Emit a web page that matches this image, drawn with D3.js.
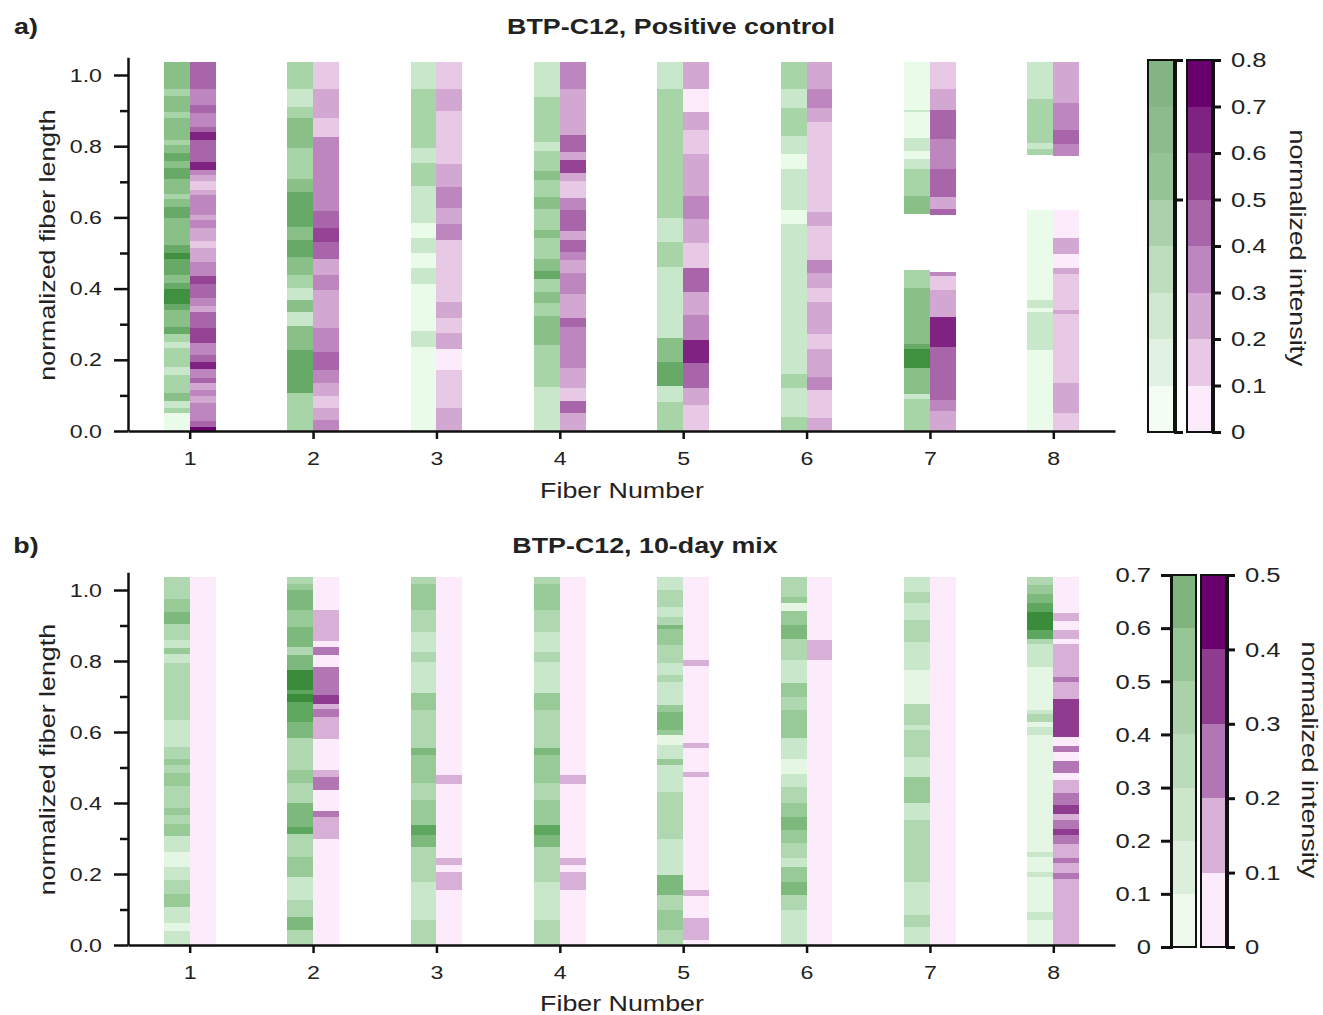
<!DOCTYPE html>
<html>
<head>
<meta charset="utf-8">
<script src="https://cdn.jsdelivr.net/npm/d3@7"></script>
<style>
  body { margin: 0; background: #fff; }
  text { font-family: "Liberation Sans", Arial, sans-serif; fill: #222; }
</style>
</head>
<body>
<div id="chart"></div>
<script>
// fiber positions and tick values
const fibers = [1, 2, 3, 4, 5, 6, 7, 8];
const lengthMajor = [0, 0.2, 0.4, 0.6, 0.8, 1.0];
const lengthMinor = [0.1, 0.3, 0.5, 0.7, 0.9];
const cbTicksA = [0, 0.1, 0.2, 0.3, 0.4, 0.5, 0.6, 0.7, 0.8];
const cbTicksGreenB = [0, 0.1, 0.2, 0.3, 0.4, 0.5, 0.6, 0.7];
const cbTicksPurpleB = [0, 0.1, 0.2, 0.3, 0.4, 0.5];
const fiberTop = 1.037;

// each column: segments from top to bottom as [lower edge, intensity]; null = no signal
const posGreen = [
  [[0.962,0.35],[0.942,0.25],[0.897,0.35],[0.878,0.25],[0.817,0.35],[0.803,0.25],[0.780,0.35],[0.758,0.45],[0.738,0.35],[0.708,0.45],[0.665,0.35],[0.652,0.25],[0.630,0.35],[0.597,0.45],[0.522,0.35],[0.499,0.45],[0.483,0.55],[0.438,0.45],[0.415,0.35],[0.399,0.45],[0.356,0.55],[0.340,0.45],[0.293,0.35],[0.272,0.45],[0.251,0.25],[0.232,0.15],[0.181,0.25],[0.157,0.15],[0.106,0.25],[0.083,0.35],[0.066,0.15],[0.050,0.25],[0,0.05]],
  [[0.962,0.25],[0.911,0.15],[0.878,0.25],[0.794,0.35],[0.708,0.25],[0.672,0.35],[0.574,0.45],[0.537,0.35],[0.490,0.45],[0.438,0.35],[0.401,0.25],[0.368,0.15],[0.333,0.35],[0.296,0.15],[0.228,0.35],[0.106,0.45],[0,0.25]],
  [[0.962,0.15],[0.796,0.25],[0.752,0.15],[0.689,0.25],[0.583,0.15],[0.541,0.05],[0.499,0.15],[0.457,0.05],[0.412,0.15],[0.281,0.05],[0.237,0.15],[0,0.05]],
  [[0.939,0.15],[0.813,0.25],[0.786,0.15],[0.730,0.25],[0.705,0.35],[0.658,0.25],[0.624,0.35],[0.565,0.25],[0.541,0.35],[0.483,0.25],[0.449,0.35],[0.427,0.45],[0.391,0.25],[0.359,0.35],[0.324,0.25],[0.242,0.35],[0.125,0.25],[0,0.15]],
  [[0.961,0.15],[0.599,0.25],[0.530,0.15],[0.462,0.25],[0.262,0.15],[0.195,0.35],[0.127,0.45],[0.081,0.15],[0,0.25]],
  [[0.961,0.25],[0.906,0.15],[0.829,0.25],[0.777,0.15],[0.736,0.05],[0.621,0.15],[0.581,0.05],[0.159,0.15],[0.120,0.25],[0.040,0.15],[0,0.25]],
  [[0.902,0.05],[0.897,0.15],[0.822,0.05],[0.786,0.15],[0.764,0.05],[0.736,0.15],[0.661,0.25],[0.609,0.35],[0.452,null],[0.401,0.25],[0.244,0.35],[0.230,0.45],[0.178,0.55],[0.103,0.35],[0.090,0.15],[0,0.25]],
  [[0.932,0.15],[0.808,0.25],[0.792,0.15],[0.775,0.25],[0.621,null],[0.368,0.05],[0.346,0.15],[0.335,0.05],[0.228,0.15],[0,0.05]]
];
const posPurple = [
  [[0.962,0.45],[0.916,0.35],[0.892,0.45],[0.855,0.35],[0.839,0.45],[0.817,0.65],[0.756,0.45],[0.733,0.65],[0.719,0.35],[0.702,0.25],[0.677,0.15],[0.663,0.25],[0.607,0.35],[0.593,0.25],[0.569,0.35],[0.534,0.25],[0.515,0.15],[0.476,0.25],[0.434,0.35],[0.412,0.55],[0.373,0.45],[0.352,0.35],[0.333,0.25],[0.288,0.45],[0.246,0.55],[0.214,0.35],[0.193,0.45],[0.174,0.65],[0.150,0.35],[0.134,0.45],[0.115,0.25],[0.097,0.35],[0.078,0.25],[0.028,0.35],[0.012,0.45],[0,0.75]],
  [[0.962,0.15],[0.878,0.25],[0.827,0.15],[0.618,0.35],[0.569,0.45],[0.532,0.55],[0.483,0.45],[0.438,0.25],[0.396,0.35],[0.288,0.25],[0.221,0.35],[0.171,0.45],[0.134,0.35],[0.099,0.25],[0.064,0.15],[0.031,0.25],[0,0.35]],
  [[0.962,0.15],[0.899,0.25],[0.749,0.15],[0.686,0.25],[0.627,0.35],[0.581,0.25],[0.537,0.35],[0.361,0.15],[0.318,0.25],[0.274,0.15],[0.230,0.25],[0.171,0.05],[0.064,0.15],[0,0.25]],
  [[0.961,0.35],[0.831,0.25],[0.785,0.45],[0.761,0.25],[0.724,0.55],[0.702,0.25],[0.654,0.15],[0.621,0.35],[0.562,0.45],[0.537,0.25],[0.502,0.45],[0.480,0.35],[0.443,0.25],[0.384,0.35],[0.317,0.25],[0.293,0.45],[0.176,0.35],[0.120,0.25],[0.084,0.15],[0.050,0.45],[0,0.25]],
  [[0.961,0.25],[0.895,0.05],[0.845,0.25],[0.777,0.15],[0.661,0.25],[0.595,0.35],[0.527,0.25],[0.459,0.15],[0.391,0.45],[0.326,0.25],[0.256,0.35],[0.190,0.65],[0.122,0.45],[0.073,0.25],[0,0.15]],
  [[0.961,0.25],[0.906,0.35],[0.867,0.25],[0.616,0.15],[0.577,0.25],[0.480,0.15],[0.443,0.35],[0.403,0.25],[0.363,0.15],[0.272,0.25],[0.230,0.15],[0.153,0.25],[0.115,0.35],[0.036,0.15],[0,0.25]],
  [[0.961,0.15],[0.902,0.25],[0.820,0.45],[0.736,0.35],[0.658,0.45],[0.624,0.25],[0.607,0.45],[0.448,null],[0.434,0.35],[0.396,0.15],[0.321,0.25],[0.237,0.65],[0.087,0.45],[0.056,0.35],[0,0.25]],
  [[0.920,0.25],[0.845,0.35],[0.805,0.45],[0.772,0.35],[0.621,null],[0.543,0.05],[0.497,0.25],[0.457,0.05],[0.441,0.25],[0.340,0.15],[0.328,0.25],[0.134,0.15],[0.050,0.25],[0,0.15]]
];
const mixGreen = [
  [[0.976,0.25],[0.939,0.35],[0.904,0.45],[0.859,0.25],[0.838,0.15],[0.819,0.35],[0.795,0.15],[0.633,0.25],[0.558,0.15],[0.525,0.25],[0.507,0.35],[0.485,0.25],[0.448,0.35],[0.385,0.25],[0.366,0.35],[0.342,0.25],[0.307,0.35],[0.263,0.15],[0.220,0.05],[0.183,0.15],[0.145,0.25],[0.106,0.35],[0.063,0.15],[0.040,0.05],[0,0.15]],
  [[1.018,0.25],[1.000,0.35],[0.943,0.45],[0.896,0.35],[0.840,0.45],[0.817,0.25],[0.774,0.45],[0.718,0.65],[0.707,0.55],[0.685,0.65],[0.629,0.55],[0.582,0.45],[0.493,0.25],[0.455,0.35],[0.399,0.25],[0.331,0.45],[0.314,0.55],[0.249,0.25],[0.192,0.35],[0.126,0.15],[0.080,0.25],[0.042,0.45],[0,0.25]],
  [[1.018,0.25],[0.943,0.35],[0.882,0.25],[0.826,0.15],[0.798,0.25],[0.709,0.15],[0.662,0.35],[0.554,0.25],[0.535,0.45],[0.455,0.35],[0.408,0.25],[0.338,0.35],[0.310,0.55],[0.277,0.45],[0.178,0.25],[0.070,0.15],[0,0.25]],
  [[1.018,0.25],[0.943,0.35],[0.882,0.25],[0.826,0.15],[0.798,0.25],[0.709,0.15],[0.662,0.35],[0.554,0.25],[0.535,0.45],[0.455,0.35],[0.408,0.25],[0.338,0.35],[0.310,0.55],[0.277,0.45],[0.178,0.25],[0.070,0.15],[0,0.25]],
  [[1.000,0.15],[0.953,0.25],[0.925,0.15],[0.901,0.25],[0.889,0.45],[0.845,0.35],[0.793,0.25],[0.760,0.15],[0.741,0.25],[0.676,0.15],[0.657,0.35],[0.605,0.45],[0.591,0.35],[0.563,0.05],[0.525,0.15],[0.507,0.35],[0.432,0.15],[0.300,0.25],[0.197,0.15],[0.140,0.45],[0.098,0.25],[0.042,0.35],[0,0.25]],
  [[0.981,0.25],[0.962,0.35],[0.941,0.05],[0.901,0.35],[0.863,0.45],[0.802,0.25],[0.737,0.15],[0.699,0.35],[0.662,0.25],[0.582,0.35],[0.525,0.15],[0.483,0.05],[0.446,0.15],[0.399,0.25],[0.361,0.35],[0.324,0.45],[0.286,0.35],[0.244,0.25],[0.220,0.15],[0.178,0.35],[0.141,0.45],[0.098,0.25],[0,0.15]],
  [[0.995,0.15],[0.962,0.25],[0.915,0.15],[0.854,0.25],[0.774,0.15],[0.680,0.05],[0.619,0.25],[0.605,0.15],[0.530,0.25],[0.474,0.15],[0.399,0.35],[0.352,0.15],[0.178,0.25],[0.084,0.15],[0.051,0.25],[0,0.15]],
  [[1.014,0.25],[0.990,0.35],[0.962,0.45],[0.939,0.55],[0.887,0.65],[0.863,0.55],[0.848,0.25],[0.784,0.15],[0.662,0.05],[0.652,0.15],[0.629,0.25],[0.615,0.05],[0.591,0.15],[0.263,0.05],[0.249,0.15],[0.206,0.05],[0.192,0.15],[0.094,0.05],[0.070,0.15],[0,0.05]]
];
const mixPurple = [
  [[0,0.05]],
  [[0.945,0.05],[0.857,0.15],[0.840,0.05],[0.817,0.25],[0.784,0.05],[0.704,0.25],[0.680,0.35],[0.666,0.15],[0.641,0.25],[0.579,0.15],[0.493,0.05],[0.474,0.15],[0.436,0.25],[0.378,0.05],[0.361,0.25],[0.300,0.15],[0,0.05]],
  [[0.479,0.05],[0.453,0.15],[0.244,0.05],[0.225,0.15],[0.206,0.05],[0.155,0.15],[0,0.05]],
  [[0.479,0.05],[0.453,0.15],[0.244,0.05],[0.225,0.15],[0.206,0.05],[0.155,0.15],[0,0.05]],
  [[0.804,0.05],[0.786,0.15],[0.570,0.05],[0.556,0.15],[0.488,0.05],[0.472,0.15],[0.155,0.05],[0.138,0.15],[0.075,0.05],[0.014,0.15],[0,0.05]],
  [[0.859,0.05],[0.804,0.15],[0,0.05]],
  [[0,0.05]],
  [[0.936,0.05],[0.913,0.15],[0.887,0.05],[0.863,0.15],[0.848,0.05],[0.756,0.15],[0.741,0.25],[0.692,0.15],[0.587,0.35],[0.560,0.05],[0.544,0.25],[0.519,0.05],[0.485,0.25],[0.466,0.05],[0.427,0.15],[0.394,0.25],[0.369,0.35],[0.352,0.15],[0.328,0.25],[0.310,0.35],[0.284,0.25],[0.244,0.15],[0.230,0.25],[0.203,0.15],[0.185,0.25],[0,0.15]]
];

// colour palettes (binned, 0.1 per bin)
const greenA = ["#eafbe9", "#c9e7ca", "#a8d5a8", "#88c088", "#67aa67", "#3f913f", "#2f842f", "#1f771f"];
const greenB = ["#e6f6e5", "#c9e7ca", "#b0d8b0", "#97ca97", "#7db97d", "#5ea75e", "#3a8c3a"];
const purpleRamp = d3.interpolateRgb("#fcebfa", "#6a006d");
const purpleBins = (n) => d3.range(n).map((i) => purpleRamp(i / (n - 1)));

// the reference type is set wider than Liberation Sans
const STRETCH = 1.22;

const svg = d3.select("#chart").append("svg").attr("width", 1323).attr("height", 1015);

const x = d3.scaleLinear().domain([0.5, 8.5]).range([128, 1115]);
const colW = 0.21;

// widen axis tick labels without moving their anchor
function stretchTicks(sel, size) {
  sel.selectAll("text").each(function () {
    const t = d3.select(this);
    const xv = +t.attr("x") || 0;
    t.attr("x", xv / STRETCH).attr("transform", `scale(${STRETCH},1)`);
  });
  sel.selectAll("text").style("font-size", size + "px").attr("fill", "#222");
}

function label(px, py, rot, size, txt, bold) {
  return svg.append("text")
    .attr("transform", `translate(${px},${py})rotate(${rot})scale(${STRETCH},1)`)
    .attr("text-anchor", "middle")
    .style("font-size", size + "px")
    .style("font-weight", bold ? "bold" : "normal")
    .text(txt);
}

function drawPanel(p) {
  const y = d3.scaleLinear().domain([0, 1.05]).range([p.base, p.base - p.unit * 1.05]);
  const g = svg.append("g");

  // heatmap columns, green left of the tick, purple right
  const layers = [
    { cols: p.green, color: p.greenColor, x0: (f) => f - colW },
    { cols: p.purple, color: p.purpleColor, x0: (f) => f }
  ];
  layers.forEach((layer) => {
    layer.cols.forEach((segs, i) => {
      const f = fibers[i];
      let top = fiberTop;
      const rects = segs.map((s) => {
        const r = { top: top, bottom: s[0], v: s[1] };
        top = s[0];
        return r;
      }).filter((r) => r.v !== null);
      g.selectAll(null)
        .data(rects)
        .enter()
        .append("rect")
        .attr("x", x(layer.x0(f)))
        .attr("width", x(f + colW) - x(f))
        .attr("y", (d) => y(d.top))
        .attr("height", (d) => y(d.bottom) - y(d.top))
        .attr("fill", (d) => layer.color(d.v))
        .attr("shape-rendering", "crispEdges");
    });
  });

  // y axis (major + minor ticks)
  const yMajor = g.append("g")
    .attr("transform", `translate(${x(0.5)},0)`)
    .call(d3.axisLeft(y).tickValues(lengthMajor).tickFormat(d3.format(".1f")).tickSize(14).tickPadding(12).tickSizeOuter(0));
  const yMinor = g.append("g")
    .attr("transform", `translate(${x(0.5)},0)`)
    .call(d3.axisLeft(y).tickValues(lengthMinor).tickFormat("").tickSize(8).tickSizeOuter(0));
  yMinor.select(".domain").remove();

  // x axis
  const xAxis = g.append("g")
    .attr("transform", `translate(0,${p.base})`)
    .call(d3.axisBottom(x).tickValues(fibers).tickSize(8).tickPadding(13).tickSizeOuter(0));

  [yMajor, yMinor, xAxis].forEach((a) => {
    a.selectAll("path, line").attr("stroke", "#111").attr("stroke-width", 2.5);
    stretchTicks(a, 19);
  });

  // labels
  label(55, p.base - p.unit / 2 - 8, -90, 22, "normalized fiber length");
  label(622, p.labelY, 0, 22, "Fiber Number");
  label(p.titleX, p.titleY, 0, 22, p.title, true);
  label(26, p.titleY, 0, 22, p.tag, true);
}

// colour bar helper
function colorBar(opts) {
  const g = svg.append("g");
  const cy = d3.scaleLinear().domain([0, opts.max]).range([opts.y0, opts.y1]);
  const bins = d3.range(opts.colors.length);
  g.selectAll(null)
    .data(bins)
    .enter()
    .append("rect")
    .attr("x", opts.x)
    .attr("width", opts.w)
    .attr("y", (i) => cy((i + 1) * 0.1))
    .attr("height", (i) => cy(i * 0.1) - cy((i + 1) * 0.1))
    .attr("fill", (i) => opts.colors[i])
    .attr("fill-opacity", opts.opacity)
    .attr("shape-rendering", "crispEdges");
  g.append("rect")
    .attr("x", opts.x)
    .attr("y", opts.y1)
    .attr("width", opts.w)
    .attr("height", opts.y0 - opts.y1)
    .attr("fill", "none")
    .attr("stroke", "#111")
    .attr("stroke-width", 2);

  const axis = (opts.side === "left" ? d3.axisLeft(cy) : d3.axisRight(cy))
    .tickValues(opts.ticks)
    .tickSize(opts.tickSize)
    .tickSizeOuter(opts.tickSize)
    .tickPadding(10)
    .tickFormat(opts.labels ? (d) => (d === 0 ? "0" : d.toFixed(1)) : "");
  const ax = g.append("g")
    .attr("transform", `translate(${opts.side === "left" ? opts.x - 1 : opts.x + opts.w + 1},0)`)
    .call(axis);
  ax.selectAll("path, line").attr("stroke", "#111").attr("stroke-width", 3);
  stretchTicks(ax, 21);
}

// panel a
drawPanel({
  base: 431, unit: 356, tag: "a)", title: "BTP-C12, Positive control", titleX: 671, titleY: 34, labelY: 498,
  green: posGreen, purple: posPurple,
  greenColor: d3.scaleQuantize().domain([0, 0.8]).range(greenA),
  purpleColor: d3.scaleQuantize().domain([0, 0.8]).range(purpleBins(8))
});
colorBar({ x: 1148, w: 26, y0: 432, y1: 60, max: 0.8, colors: greenA, opacity: 0.55, side: "right", ticks: [0, 0.5], tickSize: 8, labels: false });
colorBar({ x: 1187, w: 25, y0: 432, y1: 60, max: 0.8, colors: purpleBins(8), opacity: 1, side: "right", ticks: cbTicksA, tickSize: 8, labels: true });
label(1290, 248, 90, 22, "normalized intensity");

// panel b
drawPanel({
  base: 945, unit: 355, tag: "b)", title: "BTP-C12, 10-day mix", titleX: 645, titleY: 553, labelY: 1011,
  green: mixGreen, purple: mixPurple,
  greenColor: d3.scaleQuantize().domain([0, 0.7]).range(greenB),
  purpleColor: d3.scaleQuantize().domain([0, 0.5]).range(purpleBins(5))
});
colorBar({ x: 1172, w: 24, y0: 947, y1: 575, max: 0.7, colors: greenB, opacity: 0.65, side: "left", ticks: cbTicksGreenB, tickSize: 10, labels: true });
colorBar({ x: 1201, w: 25, y0: 947, y1: 575, max: 0.5, colors: purpleBins(5), opacity: 1, side: "right", ticks: cbTicksPurpleB, tickSize: 8, labels: true });
label(1302, 760, 90, 22, "normalized intensity");
</script>
</body>
</html>
